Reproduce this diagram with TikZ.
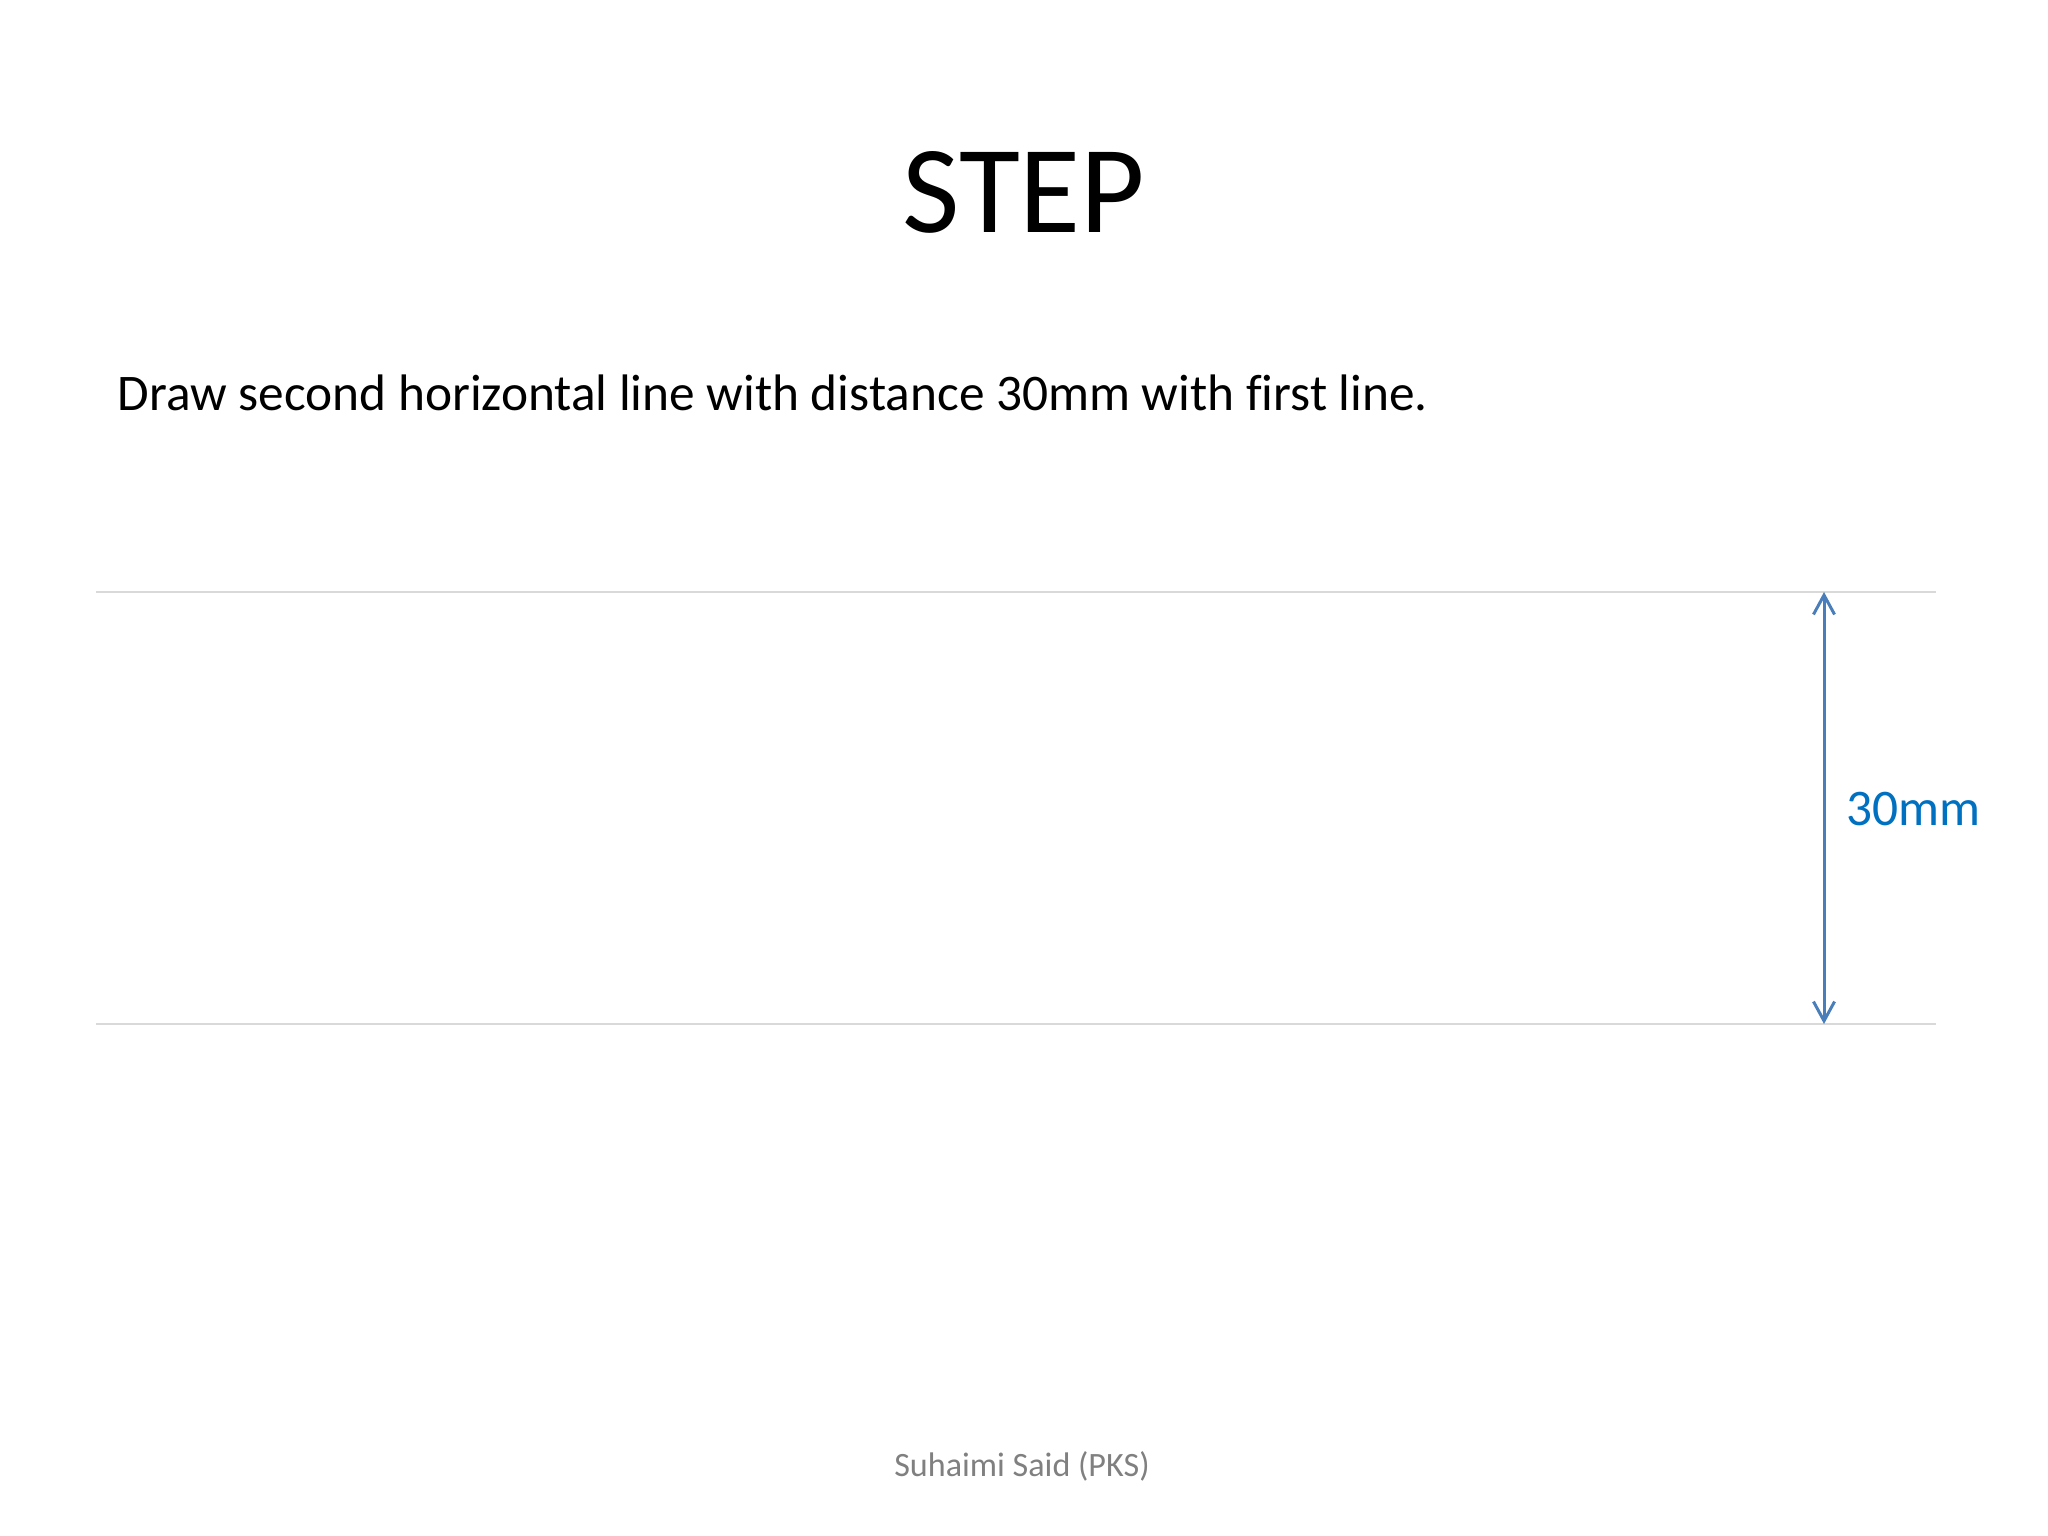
\documentclass[tikz,border=0pt]{standalone}
\usepackage{fontspec}
\setmainfont{Carlito}[Ligatures=NoCommon]
\usetikzlibrary{positioning}
\usetikzlibrary{arrows.meta}
\definecolor{gLine}{HTML}{D9D9D9}
\definecolor{aBlue}{HTML}{4A7EBB}
\definecolor{tBlue}{HTML}{0070C0}
\definecolor{fGray}{HTML}{808080}

\begin{document}
\begin{tikzpicture}[x=0.01cm, y=-0.01cm,
    guide/.style={draw=gLine, line width=0.75pt},
    dimarrow/.style={draw=aBlue, line width=0.85pt, {Straight Barb[length=5.5pt,width=6pt]}-{Straight Barb[length=5.5pt,width=6pt]}}]
  \useasboundingbox (0,0) rectangle (2048,1536);

  \node[anchor=base, font=\fontsize{35.5}{40}\selectfont] (title) at (1024,232) {STEP};
  \node[anchor=base west, inner sep=0pt, font=\fontsize{14.6}{17}\selectfont] (task) at (117,410)
    {Draw second horizontal line with distance 30mm with first line.};

  % the two lines
  \coordinate (first west) at (96,592);
  \coordinate (first east) at (1936,592);
  \coordinate (second west) at (96,1024);
  \coordinate (second east) at (1936,1024);
  \draw[guide] (first west) -- (first east);
  \draw[guide] (second west) -- (second east);

  % distance between them
  \coordinate (top) at (1824,592);
  \coordinate (bot) at (1824,1024);
  \draw[dimarrow] (top) -- (bot);
  \node[anchor=base west, inner sep=0pt, text=tBlue, font=\fontsize{14.6}{17}\selectfont] (dist) at (1846,825) {30mm};

  \node[anchor=base, text=fGray, font=\fontsize{9.7}{12}\selectfont] (author) at (1022,1476) {Suhaimi Said (PKS)};

\end{tikzpicture}
\end{document}
